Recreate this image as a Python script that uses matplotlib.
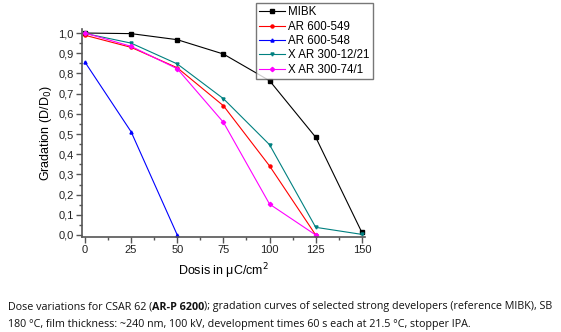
import matplotlib
matplotlib.use("Agg")
import matplotlib.pyplot as plt
from matplotlib.ticker import MultipleLocator, FuncFormatter

plt.rcParams['font.family'] = ['Liberation Sans', 'DejaVu Sans']

dose = [0, 25, 50, 75, 100, 125, 150]
mibk = [1.0, 0.997, 0.967, 0.896, 0.764, 0.484, 0.013]
ar549 = [0.989, 0.929, 0.828, 0.640, 0.342, 0.0]
ar548 = [0.856, 0.511, 0.0]
x1221 = [0.998, 0.950, 0.847, 0.675, 0.447, 0.038, 0.003]
x741 = [1.0, 0.934, 0.823, 0.558, 0.153, 0.0]

series = [
    ("MIBK", mibk, "#000000", "s"),
    ("AR 600-549", ar549, "#ff0000", "o"),
    ("AR 600-548", ar548, "#0000ff", "^"),
    ("X AR 300-12/21", x1221, "#008080", "v"),
    ("X AR 300-74/1", x741, "#ff00ff", "D"),
]

fig = plt.figure(figsize=(5.61, 3.32), dpi=100)
ax = fig.add_axes([0.1462, 0.2861, 0.5044, 0.6266])

for name, vals, col, mk in series:
    ax.plot(dose[:len(vals)], vals, color=col, marker=mk, markersize=2.2, lw=0.8, label=name)

ax.set_xlim(-1.6, 151.7)
ax.set_ylim(-0.01, 1.02)
ax.xaxis.set_major_locator(MultipleLocator(25))
ax.xaxis.set_minor_locator(MultipleLocator(12.5))
ax.yaxis.set_major_locator(MultipleLocator(0.1))
ax.yaxis.set_minor_locator(MultipleLocator(0.05))
ax.yaxis.set_major_formatter(FuncFormatter(lambda v, p: f"{v:.1f}".replace('.', ',')))
for s in ['top', 'right']:
    ax.spines[s].set_visible(False)
for s in ['left', 'bottom']:
    ax.spines[s].set_color('#555555')
    ax.spines[s].set_linewidth(1.2)
ax.tick_params(which='major', direction='out', length=4, width=1, color='#555555', labelsize=8, labelcolor='#222222', pad=2)
ax.tick_params(which='minor', direction='out', length=2.5, width=1, color='#555555')

ax.set_ylabel("Gradation (D/D$_0$)", fontsize=9, labelpad=3)
ax.set_xlabel("Dosis in \u03bcC/cm$^2$", fontsize=9, labelpad=4)

leg = ax.legend(loc='upper left', bbox_to_anchor=((256 - 82) / 283, 1.0 + 26/208), fontsize=8.3,
                frameon=True, fancybox=False, handlelength=2.2, borderpad=0.3,
                labelspacing=0.2, handletextpad=0.3, borderaxespad=0)
leg.get_frame().set_edgecolor('#555555')
leg.get_frame().set_linewidth(1.0)

# caption with bold part
fig.canvas.draw()
r = fig.canvas.get_renderer()
parts = [("Dose variations for CSAR 62 (", 'normal'), ("AR-P 6200", 'bold'),
         ("); gradation curves of selected strong developers (reference MIBK), SB", 'normal')]
x = 8
y = 1 - 307/332
fs = 7.75
for txt, w in parts:
    t = fig.text(x/561, y, txt, fontsize=fs, fontweight=w, va='center', ha='left',
                 family=['Open Sans', 'DejaVu Sans'], color='#111111')
    bb = t.get_window_extent(renderer=r)
    x += bb.width
fig.text(8/561, 1 - 324/332,
         "180 \u00b0C, film thickness: ~240 nm, 100 kV, development times 60 s each at 21.5 \u00b0C, stopper IPA.",
         fontsize=fs, va='center', ha='left', family=['Open Sans', 'DejaVu Sans'], color='#111111')

fig.savefig("out.png", dpi=100)
